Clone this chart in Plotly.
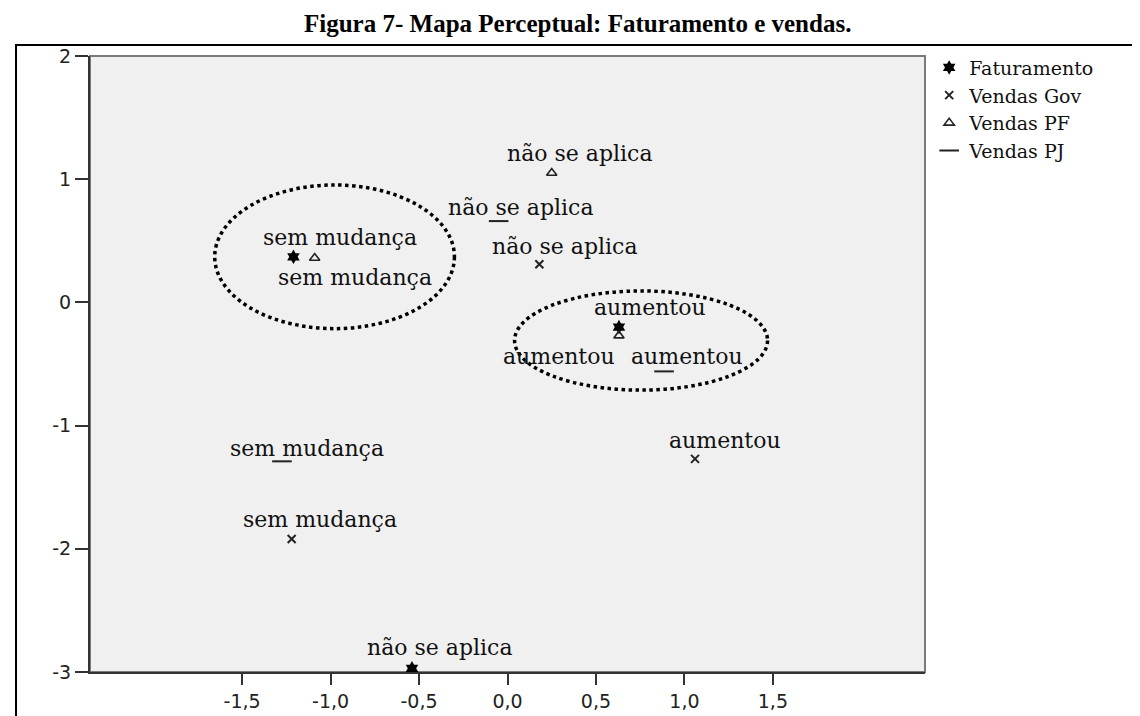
import plotly.graph_objects as go

# ---------------- data ----------------
series_names = ["Faturamento", "Vendas Gov", "Vendas PF", "Vendas PJ"]

fat_labels = ["sem mudança", "aumentou", "não se aplica"]
fat_x = [-1.21, 0.63, -0.54]
fat_y = [0.37, -0.20, -2.97]

gov_labels = ["não se aplica", "aumentou", "sem mudança"]
gov_x = [0.18, 1.06, -1.22]
gov_y = [0.31, -1.27, -1.92]

pf_labels = ["não se aplica", "sem mudança", "aumentou"]
pf_x = [0.25, -1.09, 0.63]
pf_y = [1.05, 0.36, -0.27]

pj_labels = ["não se aplica", "aumentou", "sem mudança"]
pj_x = [-0.05, 0.885, -1.275]
pj_y = [0.66, -0.56, -1.29]

x_tickvals = [-1.5, -1.0, -0.5, 0.0, 0.5, 1.0, 1.5]
x_ticktext = ["-1,5", "-1,0", "-0,5", "0,0", "0,5", "1,0", "1,5"]
y_tickvals = [2, 1, 0, -1, -2, -3]
y_ticktext = ["2", "1", "0", "-1", "-2", "-3"]

title_text = "Figura 7- Mapa Perceptual: Faturamento e vendas."

# ---------------- styles / positions ----------------
# label offsets in pixels (dx right, dy down) relative to each point
fat_off = [(47, -19), (31, -20), (28, -21)]
gov_off = [(26, -18), (30, -18), (28, -19)]
pf_off = [(28, -20), (40, 19), (-60, 21)]
pj_off = [(22, -14), (23, -15), (25, -13)]

# hand-drawn dotted ellipses (x0, y0, x1, y1) in axis units
ellipses = [(-1.655, -0.213, -0.30, 0.953), (0.04, -0.712, 1.47, 0.093)]

series = [
    (series_names[0], fat_x, fat_y, fat_labels, fat_off,
     dict(symbol="hexagram", size=11, color="#000000", line=dict(width=0))),
    (series_names[1], gov_x, gov_y, gov_labels, gov_off,
     dict(symbol="x-thin-open", size=8, color="#222222", line=dict(width=2, color="#222222"))),
    (series_names[2], pf_x, pf_y, pf_labels, pf_off,
     dict(symbol="triangle-up-open", size=9, color="#222222", line=dict(width=1.6, color="#222222"))),
    (series_names[3], pj_x, pj_y, pj_labels, pj_off,
     dict(symbol="line-ew-open", size=14, color="#222222", line=dict(width=2, color="#222222"))),
]

label_font = dict(family="DejaVu Serif", size=22, color="#111111")
tick_font = dict(family="DejaVu Sans", size=19, color="#222222")

fig = go.Figure()
annotations = []
for name, xs, ys, labs, offs, mk in series:
    fig.add_trace(go.Scatter(x=xs, y=ys, mode="markers", name=name, marker=mk,
                             hoverinfo="text", text=labs))
    for xv, yv, lab, (dx, dy) in zip(xs, ys, labs, offs):
        annotations.append(dict(x=xv, y=yv, xref="x", yref="y", text=lab,
                                showarrow=False, xshift=dx, yshift=-dy,
                                xanchor="center", yanchor="middle", font=label_font))

annotations.append(dict(x=0.5844, y=1.053, xref="paper", yref="paper", text="<b>" + title_text + "</b>",
                        showarrow=False, xanchor="center", yanchor="middle",
                        font=dict(family="Liberation Serif", size=25, color="#000000")))

shapes = []
# outer frame
shapes.append(dict(type="rect", xref="paper", yref="paper", x0=-0.0886, x1=1.266, y0=-0.10, y1=1.0177,
                   line=dict(color="#000000", width=2), layer="below"))
# plot box border (top/right lighter)
shapes.append(dict(type="rect", xref="paper", yref="paper", x0=0, x1=1, y0=0, y1=1,
                   line=dict(color="#7a7a7a", width=2), layer="below"))
for (x0, y0, x1, y1) in ellipses:
    shapes.append(dict(type="circle", xref="x", yref="y", x0=x0, y0=y0, x1=x1, y1=y1,
                       line=dict(color="#000000", width=3.5, dash="dot")))

fig.update_layout(
    width=1140, height=716,
    margin=dict(l=82, r=223, t=48, b=46),
    paper_bgcolor="#ffffff",
    plot_bgcolor="#f0f0f0",
    showlegend=True,
    legend=dict(x=1.005, y=1.012, xanchor="left", yanchor="top",
                font=dict(family="DejaVu Serif", size=19, color="#111111"),
                bgcolor="rgba(0,0,0,0)", itemwidth=30, tracegroupgap=0),
    annotations=annotations,
    shapes=shapes,
    xaxis=dict(range=[-2.36, 2.36], tickvals=x_tickvals, ticktext=x_ticktext,
               showgrid=False, zeroline=False, showline=True, linecolor="#333333", linewidth=2,
               ticks="outside", ticklen=11, tickwidth=2, tickcolor="#333333", tickfont=tick_font),
    yaxis=dict(range=[-3, 2], tickvals=y_tickvals, ticktext=y_ticktext,
               showgrid=False, zeroline=False, showline=True, linecolor="#333333", linewidth=2,
               ticks="outside", ticklen=13, tickwidth=2, tickcolor="#333333", tickfont=tick_font),
)

fig.write_html("out.html")
